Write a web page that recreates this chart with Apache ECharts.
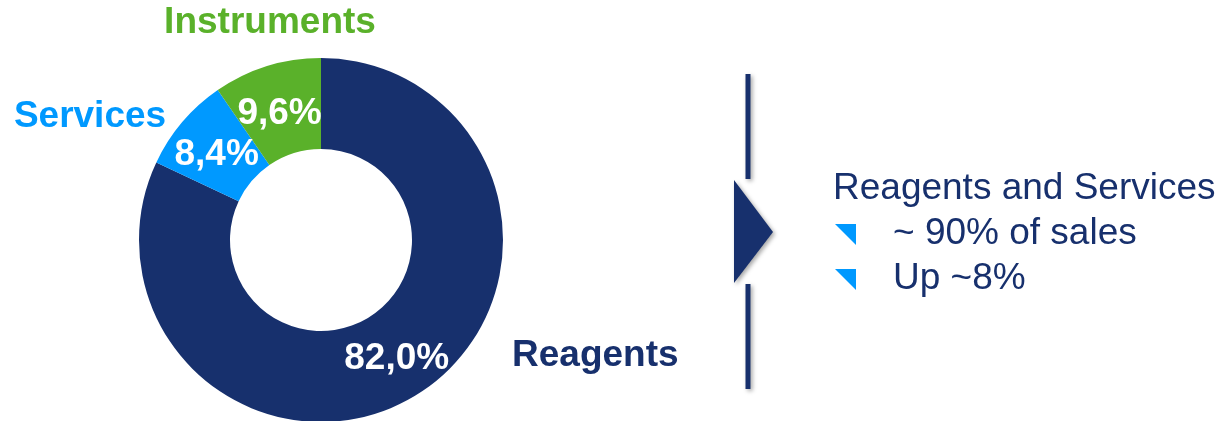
<!DOCTYPE html>
<html>
<head>
<meta charset="utf-8">
<script src="https://cdn.jsdelivr.net/npm/echarts@6/dist/echarts.min.js"></script>
<style>
html,body{margin:0;padding:0;background:#fff;}
#chart{width:1224px;height:421px;}
</style>
</head>
<body>
<div id="chart"></div>
<script>
// Data
var categories = ['Reagents', 'Services', 'Instruments'];
var shares = [82.0, 8.4, 9.6];
var sliceColors = ['#17306D', '#0099FF', '#5AB12A'];
var headline = 'Reagents and Services';
var bullets = ['~ 90% of sales', 'Up ~8%'];

var FONT = '"Liberation Sans", Arial, Helvetica, sans-serif';
var NAVY = '#17306D';

var chart = echarts.init(document.getElementById('chart'), null, {renderer: 'canvas'});

// small label nudges (styling only)
var labelNudge = {
  'Reagents':    {dx: 1, dy: 1},
  'Services':    {dx: 2, dy: 5},
  'Instruments': {dx: 0, dy: 7}
};

var pieData = categories.map(function (c, i) {
  return {name: c, value: shares[i], itemStyle: {color: sliceColors[i]}};
});

var catLabelPos = {
  'Reagents':    {x: 512, y: 356, align: 'left'},
  'Services':    {x: 90,  y: 117, align: 'center'},
  'Instruments': {x: 270, y: 23,  align: 'center'}
};

var graphics = [];
categories.forEach(function (c, i) {
  var p = catLabelPos[c];
  graphics.push({
    type: 'text', x: p.x, y: p.y, silent: true,
    style: {text: c, font: 'bold 37px ' + FONT, fill: sliceColors[i], align: p.align, verticalAlign: 'middle'}
  });
});

var shadow = {shadowBlur: 4, shadowColor: 'rgba(0,0,0,0.35)', shadowOffsetX: 2, shadowOffsetY: 2};
graphics.push({type: 'line', silent: true, shape: {x1: 748, y1: 74, x2: 748, y2: 179}, style: Object.assign({stroke: NAVY, lineWidth: 5}, shadow)});
graphics.push({type: 'line', silent: true, shape: {x1: 748, y1: 284, x2: 748, y2: 389}, style: Object.assign({stroke: NAVY, lineWidth: 5}, shadow)});
graphics.push({type: 'polygon', silent: true, shape: {points: [[734, 180], [773, 232], [734, 283]]}, style: Object.assign({fill: NAVY}, shadow)});
graphics.push({type: 'text', x: 833, y: 189, silent: true, style: {text: headline, font: '37px ' + FONT, fill: NAVY, align: 'left', verticalAlign: 'middle'}});
var bulletY = [234, 279];
bullets.forEach(function (b, i) {
  var cy = bulletY[i];
  graphics.push({type: 'polygon', silent: true, shape: {points: [[835, cy - 10], [856, cy - 10], [856, cy + 11]]}, style: {fill: '#0099FF'}});
  graphics.push({type: 'text', x: 893, y: cy, silent: true, style: {text: b, font: '37px ' + FONT, fill: NAVY, align: 'left', verticalAlign: 'middle'}});
});

var option = {
  animation: false,
  backgroundColor: '#ffffff',
  series: [{
    type: 'pie',
    center: [321, 240],
    radius: [91, 182],
    startAngle: 90,
    clockwise: true,
    avoidLabelOverlap: false,
    silent: true,
    itemStyle: {borderWidth: 0},
    label: {
      show: true, position: 'inside', color: '#ffffff', fontFamily: FONT, fontWeight: 'bold', fontSize: 37,
      formatter: function (p) { return p.value.toFixed(1).replace('.', ',') + '%'; }
    },
    labelLayout: function (params) {
      var n = labelNudge[categories[params.dataIndex]];
      return {dx: n.dx, dy: n.dy};
    },
    labelLine: {show: false},
    emphasis: {disabled: true},
    data: pieData
  }],
  graphic: {elements: graphics}
};
chart.setOption(option);
</script>
</body>
</html>
